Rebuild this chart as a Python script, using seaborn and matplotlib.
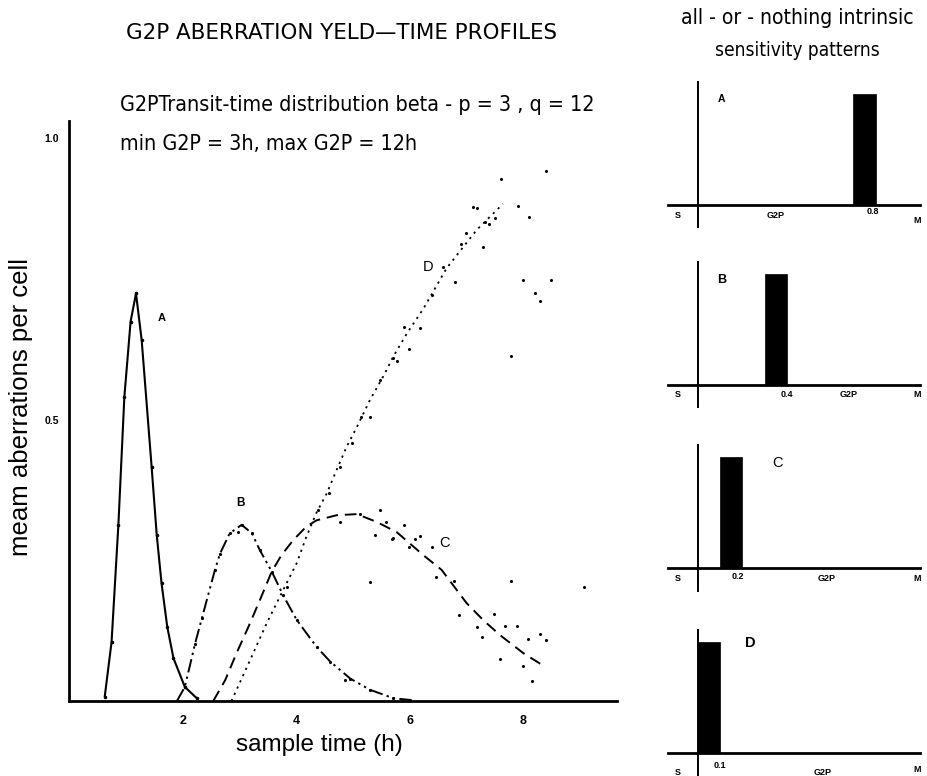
import numpy as np
import pandas as pd
import matplotlib
matplotlib.use("Agg")
import matplotlib.pyplot as plt
import seaborn as sns

# ---------------- data ----------------
a_time = [0.63, 0.75, 0.87, 0.975, 1.085, 1.18, 1.28, 1.455, 1.545, 1.63, 1.73, 1.84, 2.04, 2.25]
a_yield = [0.008, 0.105, 0.313, 0.54, 0.674, 0.724, 0.641, 0.416, 0.295, 0.209, 0.132, 0.076, 0.025, 0.005]

b_time = [1.90, 2.04, 2.22, 2.34, 2.57, 2.66, 2.83, 3.04, 3.22, 3.36, 3.57, 3.77, 4.01, 4.36, 4.60, 4.95, 5.30, 5.71, 6.00]
b_yield = [0.0, 0.025, 0.102, 0.147, 0.233, 0.262, 0.298, 0.313, 0.298, 0.268, 0.230, 0.188, 0.144, 0.096, 0.070, 0.040, 0.020, 0.005, 0.002]

c_time = [2.54, 2.75, 2.95, 3.16, 3.36, 3.57, 3.74, 3.95, 4.18, 4.36, 4.71, 5.07, 5.42, 5.77, 6.24,
          6.56, 7.00, 7.29, 7.59, 8.00, 8.38]
c_yield = [0.0, 0.037, 0.085, 0.132, 0.179, 0.230, 0.259, 0.286, 0.310, 0.321, 0.330, 0.332, 0.318,
           0.300, 0.259, 0.233, 0.174, 0.144, 0.117, 0.085, 0.061]

d_time = [2.86, 3.19, 3.48, 3.77, 4.01, 4.18, 4.36, 4.54, 4.71, 4.89, 5.07, 5.30, 5.53, 5.71, 5.95,
          6.24, 6.65, 7.18, 7.64]
d_yield = [0.0, 0.073, 0.138, 0.197, 0.245, 0.292, 0.335, 0.369, 0.410, 0.452, 0.487, 0.535, 0.576,
           0.612, 0.653, 0.697, 0.769, 0.837, 0.883]

# scattered sample points
obs_time = [2.98, 4.86,
            5.48, 5.59, 5.39, 5.68, 5.89, 5.99, 6.09, 6.18, 4.77, 5.12, 5.70, 6.39, 6.47, 6.78, 6.87,
            7.18, 7.48, 7.68, 7.89, 8.09, 8.29, 8.40, 7.28, 7.59, 8.00, 8.15, 7.79, 9.07, 5.30,
            8.40, 7.61, 7.11, 7.19, 7.90, 8.10, 7.50, 7.39, 7.32, 6.99, 6.90, 7.29, 6.59, 6.80, 7.99,
            8.49, 8.20, 8.29, 6.40, 6.18, 5.90, 5.99, 5.77, 5.70, 7.79, 5.48, 5.30, 5.15, 4.98, 4.77,
            4.57, 4.39, 3.83]
obs_yield = [0.300, 0.037,
             0.339, 0.318, 0.295, 0.288, 0.313, 0.274, 0.287, 0.293, 0.318, 0.333, 0.289, 0.273, 0.221,
             0.214, 0.153, 0.132, 0.155, 0.133, 0.133, 0.111, 0.119, 0.108, 0.114, 0.075, 0.062, 0.035,
             0.213, 0.203, 0.212,
             0.942, 0.927, 0.878, 0.876, 0.880, 0.860, 0.858, 0.847, 0.850, 0.832, 0.811, 0.806, 0.771,
             0.744, 0.747, 0.748, 0.724, 0.710, 0.721, 0.663, 0.664, 0.626, 0.604, 0.610, 0.612, 0.570,
             0.505, 0.505, 0.458, 0.416, 0.369, 0.339, 0.203]

curve_names = ["A", "B", "C", "D"]

# sensitivity patterns (right panels)
pattern_names = ["A", "B", "C", "D"]
pattern_start = [0.7, 0.3, 0.1, 0.0]
pattern_height = [1.0, 1.0, 1.0, 1.0]
pattern_value_label = ["0.8", "0.4", "0.2", "0.1"]

# ---------------- figure ----------------
sns.set_theme(style="white")
plt.rcParams['font.family'] = ['Liberation Sans', 'DejaVu Sans']
plt.rcParams.update({'axes.edgecolor': 'black', 'text.color': 'black', 'axes.labelcolor': 'black',
                     'xtick.color': 'black', 'ytick.color': 'black'})

fig = plt.figure(figsize=(9.27, 7.76), dpi=100)
ax = fig.add_axes([0.0744, 0.0966, 0.5913, 0.7473])

curve_df = pd.concat([
    pd.DataFrame({"time": a_time, "yield": a_yield, "curve": "A"}),
    pd.DataFrame({"time": b_time, "yield": b_yield, "curve": "B"}),
    pd.DataFrame({"time": c_time, "yield": c_yield, "curve": "C"}),
    pd.DataFrame({"time": d_time, "yield": d_yield, "curve": "D"}),
])

styles = {
    "A": dict(linestyle="-", linewidth=1.5, marker="o", markersize=1.8),
    "B": dict(linestyle=(0, (7, 2.2, 1.2, 2.2, 1.2, 2.2)), linewidth=1.4, marker="o", markersize=1.5),
    "C": dict(linestyle=(0, (6, 3.5)), linewidth=1.4, marker=None),
    "D": dict(linestyle=(0, (1.2, 2.6)), linewidth=1.3, marker=None),
}
for name in curve_names:
    sub = curve_df[curve_df["curve"] == name]
    sns.lineplot(data=sub, x="time", y="yield", ax=ax, color="black", sort=True,
                 estimator=None, legend=False, markeredgecolor="black", **styles[name])

sns.scatterplot(x=obs_time, y=obs_yield, ax=ax, color="black", s=5, linewidth=0, legend=False)

ax.set_xlim(0, 9.65)
ax.set_ylim(0, 1.03)
for side in ["top", "right"]:
    ax.spines[side].set_visible(False)
for side in ["left", "bottom"]:
    ax.spines[side].set_linewidth(2.0)
    ax.spines[side].set_color("black")

ax.set_xticks(np.arange(0, 10, 1))
ax.set_xticklabels(["" if t not in (2, 4, 6, 8) else str(t) for t in range(10)],
                   fontsize=9, fontweight="bold")
yt = np.round(np.arange(0, 1.01, 0.1), 1)
ax.set_yticks(yt)
ax.set_yticklabels(["0.5" if abs(v - 0.5) < 1e-6 else ("1.0" if abs(v - 1.0) < 1e-6 else "") for v in yt],
                   fontsize=7.5, fontweight="bold")
ax.tick_params(axis="both", direction="out", length=4, width=1.3, color="black", pad=3, labelcolor="black")
ax.tick_params(axis="x", pad=6)
ax.set_xlabel("")
ax.set_ylabel("")

fig.text(319 / 927, 1 - 745 / 776, "sample time (h)", fontsize=17.5, ha="center", va="center")
fig.text(21 / 927, 1 - 407 / 776, "meam aberrations per cell", fontsize=18.5, rotation=90,
         ha="center", va="center")

ax.text(1.63, 0.68, "A", fontsize=8, fontweight="bold", ha="center", va="center")
ax.text(3.02, 0.351, "B", fontsize=8.5, fontweight="bold", ha="center", va="center")
ax.text(6.62, 0.28, "C", fontsize=10.5, ha="center", va="center")
ax.text(6.32, 0.771, "D", fontsize=10.5, ha="center", va="center")

cond = dict(family=['DejaVu Sans'], fontstretch='condensed')
fig.text(342 / 927, 1 - 33 / 776, "G2P ABERRATION YELD\u2014TIME PROFILES", fontsize=15.4,
         ha="center", va="center", family=['DejaVu Sans'])
fig.text(120 / 927, 1 - 105 / 776, "G2PTransit-time distribution beta - p = 3 , q = 12",
         fontsize=15.4, ha="left", va="center", **cond)
fig.text(120 / 927, 1 - 144 / 776, "min G2P = 3h, max G2P = 12h",
         fontsize=15.4, ha="left", va="center", **cond)
fig.text(797 / 927, 1 - 18 / 776, "all - or - nothing intrinsic", fontsize=15.1,
         ha="center", va="center", **cond)
fig.text(797 / 927, 1 - 51 / 776, "sensitivity patterns", fontsize=13.7,
         ha="center", va="center", **cond)

# ---------------- right panels ----------------
panel_bottoms = [0.7075, 0.4755, 0.2390, 0.0006]
letter_pos = [(0.105, 0.95), (0.105, 0.94), (0.36, 0.95), (0.235, 0.99)]
letter_size = [7.5, 9, 10.5, 10.5]
letter_weight = ["bold", "bold", "normal", "bold"]
value_pos = [(0.79, -0.065), (0.40, -0.09), (0.18, -0.075), (0.10, -0.11)]
g2p_x = [0.35, 0.68, 0.58, 0.56]
lab_y = [-0.10, -0.09, -0.09, -0.17]
m_y = [-0.14, -0.09, -0.09, -0.15]

for i, name in enumerate(pattern_names):
    pax = fig.add_axes([668 / 927, panel_bottoms[i], 252 / 927, 0.1874])
    pax.bar(pattern_start[i], pattern_height[i], width=0.1, align="edge", color="black",
            edgecolor="black", linewidth=0.5)
    pax.set_xlim(-0.135, 1.0)
    pax.set_ylim(-0.2, 1.11)
    pax.patch.set_alpha(0)
    for side in ["top", "right"]:
        pax.spines[side].set_visible(False)
    pax.spines["bottom"].set_position(("data", 0))
    pax.spines["left"].set_position(("data", 0))
    pax.spines["bottom"].set_linewidth(2.0)
    pax.spines["left"].set_linewidth(1.4)
    pax.set_xticks(np.arange(0, 1.01, 0.1))
    pax.set_xticklabels([])
    pax.set_yticks([])
    pax.tick_params(axis="x", direction="out", length=2.5, width=1.5, color="black")
    pax.text(letter_pos[i][0], letter_pos[i][1], name, fontsize=letter_size[i],
             fontweight=letter_weight[i], ha="center", va="center")
    pax.text(-0.09, lab_y[i], "S", fontsize=6.5, fontweight="bold", ha="center", va="center")
    pax.text(value_pos[i][0], value_pos[i][1], pattern_value_label[i], fontsize=6.5,
             fontweight="bold", ha="center", va="center")
    pax.text(g2p_x[i], lab_y[i], "G2P", fontsize=6.5, fontweight="bold", ha="center", va="center")
    pax.text(0.985, m_y[i], "M", fontsize=6.5, fontweight="bold", ha="center", va="center")

fig.savefig("out.png", dpi=100)
